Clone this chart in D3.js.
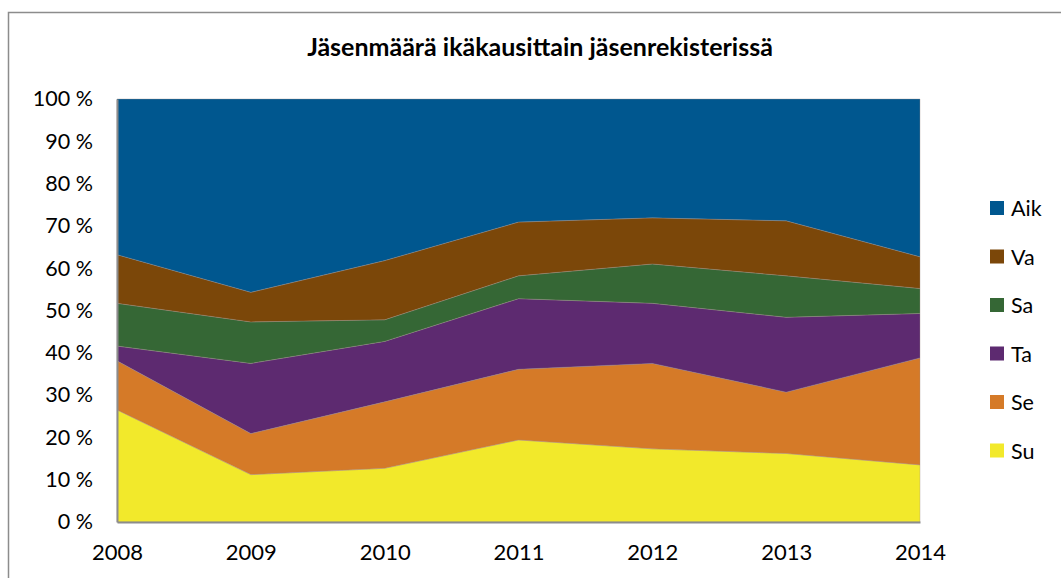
<!DOCTYPE html>
<html>
<head>
<meta charset="utf-8">
<script src="https://cdn.jsdelivr.net/npm/d3@7"></script>
<style>
  body { margin: 0; background: #fff; }
  svg text { font-family: Lato, "Open Sans", sans-serif; fill: #000; }
</style>
</head>
<body>
<div id="chart"></div>
<script>
// data (percent shares)
var years = [2008, 2009, 2010, 2011, 2012, 2013, 2014];
var seriesNames = ["Su", "Se", "Ta", "Sa", "Va", "Aik"];
var su  = [26.5, 11.2, 12.7, 19.4, 17.3, 16.2, 13.5];
var se  = [11.6,  9.7, 15.7, 16.7, 20.2, 14.5, 25.3];
var ta  = [ 3.5, 16.6, 14.3, 16.7, 14.2, 17.7, 10.5];
var sa  = [10.1,  9.8,  5.1,  5.4,  9.3,  9.8,  5.9];
var va  = [11.5,  7.0, 14.0, 12.7, 10.9, 13.0,  7.5];
var aik = [36.8, 45.7, 38.2, 29.1, 28.1, 28.8, 37.3];
var yTicks = [0, 10, 20, 30, 40, 50, 60, 70, 80, 90, 100];
var title = "Jäsenmäärä ikäkausittain jäsenrekisterissä";

var colors = {Su: "#f2e92b", Se: "#d57a28", Ta: "#5d2a70", Sa: "#356735", Va: "#7b4709", Aik: "#00578f"};

var width = 1061, height = 578;
var margin = {top: 99, right: 141, bottom: 56, left: 117};

var rows = years.map(function(y, i) {
  return {year: y, Su: su[i], Se: se[i], Ta: ta[i], Sa: sa[i], Va: va[i], Aik: aik[i]};
});

var svg = d3.select("#chart").append("svg")
  .attr("width", width).attr("height", height);

// outer chart frame
svg.append("rect")
  .attr("x", 8.5).attr("y", 12.5)
  .attr("width", width + 10).attr("height", height + 10)
  .attr("fill", "none").attr("stroke", "#8c8c8c").attr("stroke-width", 1.5);

var x = d3.scaleLinear().domain([2008, 2014]).range([margin.left, width - margin.right]);
var y = d3.scaleLinear().domain([0, 100]).range([height - margin.bottom, margin.top]);

var stack = d3.stack().keys(seriesNames);
var layers = stack(rows);

var area = d3.area()
  .x(function(d) { return x(d.data.year); })
  .y0(function(d) { return y(d[0]); })
  .y1(function(d) { return y(d[1]); });

svg.append("g").selectAll("path")
  .data(layers).enter().append("path")
  .attr("d", area)
  .attr("fill", function(d) { return colors[d.key]; })
  .attr("stroke", "#a08f8a")
  .attr("stroke-width", 0.6)
  .attr("stroke-opacity", 0.6);

// axes
var yAxis = svg.append("g")
  .attr("transform", "translate(" + margin.left + ",0)")
  .call(d3.axisLeft(y).tickValues(yTicks).tickSize(0).tickPadding(24)
    .tickFormat(function(d) { return d + " %"; }));
yAxis.select(".domain").attr("stroke", "#8c8c8c").attr("stroke-width", 2);
yAxis.selectAll("text").style("font-size", "21.5px");

var xAxis = svg.append("g")
  .attr("transform", "translate(0," + (height - margin.bottom) + ")")
  .call(d3.axisBottom(x).tickValues(years).tickSize(0).tickPadding(22)
    .tickFormat(d3.format("d")));
xAxis.select(".domain").attr("stroke", "#8c8c8c").attr("stroke-width", 2);
xAxis.selectAll("text").style("font-size", "22px");

// title
svg.append("text")
  .attr("x", 540).attr("y", 56)
  .attr("text-anchor", "middle")
  .style("font-size", "25px").style("font-weight", "bold")
  .text(title);

// legend, top to bottom
var legendKeys = seriesNames.slice().reverse();
var legend = svg.append("g").selectAll("g")
  .data(legendKeys).enter().append("g")
  .attr("transform", function(d, i) { return "translate(990," + (208 + i * 48.5) + ")"; });
legend.append("rect")
  .attr("x", 0).attr("y", -7).attr("width", 14).attr("height", 14)
  .attr("fill", function(d) { return colors[d]; });
legend.append("text")
  .attr("x", 21).attr("y", 8)
  .style("font-size", "21.5px")
  .text(function(d) { return d; });
</script>
</body>
</html>
